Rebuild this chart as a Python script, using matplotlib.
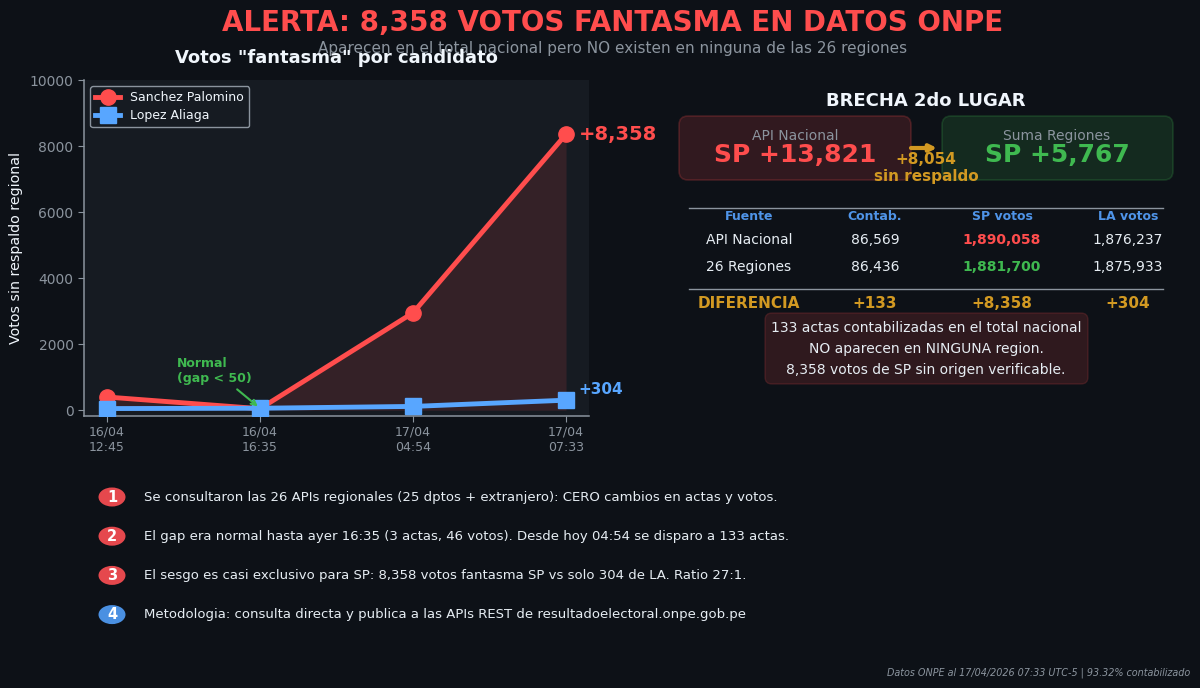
import matplotlib
matplotlib.use("Agg")
import matplotlib.pyplot as plt
from matplotlib.patches import FancyBboxPatch, Ellipse
from matplotlib.colors import to_rgba

time_labels = ["16/04\n12:45", "16/04\n16:35", "17/04\n04:54", "17/04\n07:33"]
sp_values = [400, 46, 2950, 8358]
la_values = [50, 60, 115, 304]
yticks = [0, 2000, 4000, 6000, 8000, 10000]
table_headers = ["Fuente", "Contab.", "SP votos", "LA votos"]
row_api = ["API Nacional", "86,569", "1,890,058", "1,876,237"]
row_reg = ["26 Regiones", "86,436", "1,881,700", "1,875,933"]
row_diff = ["DIFERENCIA", "+133", "+8,358", "+304"]
findings = [
    "Se consultaron las 26 APIs regionales (25 dptos + extranjero): CERO cambios en actas y votos.",
    "El gap era normal hasta ayer 16:35 (3 actas, 46 votos). Desde hoy 04:54 se disparo a 133 actas.",
    "El sesgo es casi exclusivo para SP: 8,358 votos fantasma SP vs solo 304 de LA. Ratio 27:1.",
    "Metodologia: consulta directa y publica a las APIs REST de resultadoelectoral.onpe.gob.pe",
]

BG = "#0d1117"; PANEL = "#161b22"; RED = "#ff4d4d"; BLUE = "#58a6ff"
GREEN = "#3fb950"; GOLD = "#d29922"; GREY = "#8b949e"; WHITE = "#f0f6fc"; TXT = "#e6edf3"
W, H = 1200, 688

fig = plt.figure(figsize=(12, 6.88), dpi=100, facecolor=BG)

ov = fig.add_axes([0, 0, 1, 1], zorder=0)
ov.set_xlim(0, W); ov.set_ylim(H, 0); ov.axis("off")

ax = fig.add_axes([84/W, 1-415.5/H, (589-84)/W, (415.5-80)/H], zorder=2)
ax.set_facecolor(PANEL)
x = list(range(len(sp_values)))
ax.fill_between(x, sp_values, 0, color=RED, alpha=0.13, lw=0)
ax.plot(x, sp_values, "-o", color=RED, lw=3.5, ms=11, label="Sanchez Palomino", zorder=3)
ax.plot(x, la_values, "-s", color=BLUE, lw=3.5, ms=11, label="Lopez Aliaga", zorder=4)
ax.set_xlim(-0.15, 3.15); ax.set_ylim(-160, 10000)
ax.set_xticks(x); ax.set_xticklabels(time_labels, fontsize=9, color=GREY)
ax.set_yticks(yticks); ax.set_yticklabels([str(v) for v in yticks], fontsize=10, color=GREY)
ax.tick_params(colors=GREY, length=4)
for s in ("top", "right"):
    ax.spines[s].set_visible(False)
for s in ("left", "bottom"):
    ax.spines[s].set_color(GREY)
    ax.spines[s].set_linewidth(1.1)
ax.set_ylabel('Votos sin respaldo regional', fontsize=10.3, color=WHITE)
ax.yaxis.set_label_coords(-0.12, 0.5)
ax.set_title('Votos "fantasma" por candidato', fontsize=13, color=WHITE, fontweight="bold", pad=12)
leg = ax.legend(loc="upper left", fontsize=9, facecolor=PANEL, edgecolor=GREY, labelcolor=WHITE,
                framealpha=1, borderpad=0.4, labelspacing=0.4, handlelength=2.0)
ax.annotate(f"+{sp_values[3]:,}", (3, sp_values[3]), xytext=(9, 0), textcoords="offset points",
            color=RED, fontsize=14, fontweight="bold", va="center", annotation_clip=False)
ax.annotate(f"+{la_values[3]}", (3, la_values[3]), xytext=(9, 8), textcoords="offset points",
            color=BLUE, fontsize=11, fontweight="bold", va="center", annotation_clip=False)
ax.annotate("Normal\n(gap < 50)", xy=(1, 60), xytext=(0.46, 860), color=GREEN, fontsize=9,
            fontweight="bold", arrowprops=dict(arrowstyle="->", color=GREEN, lw=1.5), zorder=6)

ov.text(613, 23, "ALERTA: 8,358 VOTOS FANTASMA EN DATOS ONPE", color=RED, fontsize=20,
        fontweight="bold", ha="center", va="center")
ov.text(613, 48, "Aparecen en el total nacional pero NO existen en ninguna de las 26 regiones",
        color=GREY, fontsize=11, ha="center", va="center")
ov.text(926, 101, "BRECHA 2do LUGAR", color=WHITE, fontsize=13, fontweight="bold", ha="center", va="center")

for (x0, x1, col) in [(679, 911, RED), (942, 1173, GREEN)]:
    ov.add_patch(FancyBboxPatch((x0, 116), x1-x0, 64, boxstyle="round,pad=0,rounding_size=9",
                                fc=to_rgba(col, 0.15), ec=to_rgba(col, 0.2), lw=1.2))
ov.annotate("", xy=(937, 148), xytext=(911, 148),
            arrowprops=dict(arrowstyle="-|>", color=GOLD, lw=3, mutation_scale=10, shrinkA=0, shrinkB=0))
ov.text(795, 136, "API Nacional", color=GREY, fontsize=10, ha="center", va="center")
ov.text(795, 155, "SP +13,821", color=RED, fontsize=18, fontweight="bold", ha="center", va="center")
ov.text(1057, 136, "Suma Regiones", color=GREY, fontsize=10, ha="center", va="center")
ov.text(1057, 155, "SP +5,767", color=GREEN, fontsize=18, fontweight="bold", ha="center", va="center")
ov.text(926, 159, "+8,054", color=GOLD, fontsize=11, fontweight="bold", ha="center", va="center")
ov.text(926, 176, "sin respaldo", color=GOLD, fontsize=11, fontweight="bold", ha="center", va="center")

cols = [749, 875, 1002, 1128]
ov.plot([689, 1163], [207.5, 207.5], color=GREY, lw=1)
ov.plot([689, 1163], [288.5, 288.5], color=GREY, lw=1)
for cx, t in zip(cols, table_headers):
    ov.text(cx, 217, t, color="#4f94e8", fontsize=9, fontweight="bold", ha="center", va="center")
for i, (cx, t) in enumerate(zip(cols, row_api)):
    bold = i == 2
    ov.text(cx, 240, t, color=RED if bold else TXT, fontsize=10, ha="center", va="center",
            fontweight="bold" if bold else "normal")
for i, (cx, t) in enumerate(zip(cols, row_reg)):
    bold = i == 2
    ov.text(cx, 267, t, color=GREEN if bold else TXT, fontsize=10, ha="center", va="center",
            fontweight="bold" if bold else "normal")
for cx, t in zip(cols, row_diff):
    ov.text(cx, 304, t, color=GOLD, fontsize=11, fontweight="bold", ha="center", va="center")

ov.add_patch(FancyBboxPatch((765, 313), 323, 71, boxstyle="round,pad=0,rounding_size=7",
                            fc=to_rgba(RED, 0.14), ec=to_rgba(RED, 0.16), lw=1))
for yy, t in zip([328, 349, 370], ["133 actas contabilizadas en el total nacional",
                                   "NO aparecen en NINGUNA region.",
                                   "8,358 votos de SP sin origen verificable."]):
    ov.text(926, yy, t, color=TXT, fontsize=10, ha="center", va="center")

for i, t in enumerate(findings):
    yy = 497 + i*39.2
    col = "#e5484d" if i < 3 else "#4a90e2"
    ov.add_patch(Ellipse((112, yy), 27, 19, fc=col, ec="none"))
    ov.text(112, yy, str(i+1), color="white", fontsize=10.5, fontweight="bold", ha="center", va="center")
    ov.text(144, yy, t, color=TXT, fontsize=9.5, ha="left", va="center")

ov.text(1190, 673, "Datos ONPE al 17/04/2026 07:33 UTC-5 | 93.32% contabilizado", color=GREY,
        fontsize=6.9, style="italic", ha="right", va="center")

fig.savefig("out.png", dpi=100, facecolor=BG)
